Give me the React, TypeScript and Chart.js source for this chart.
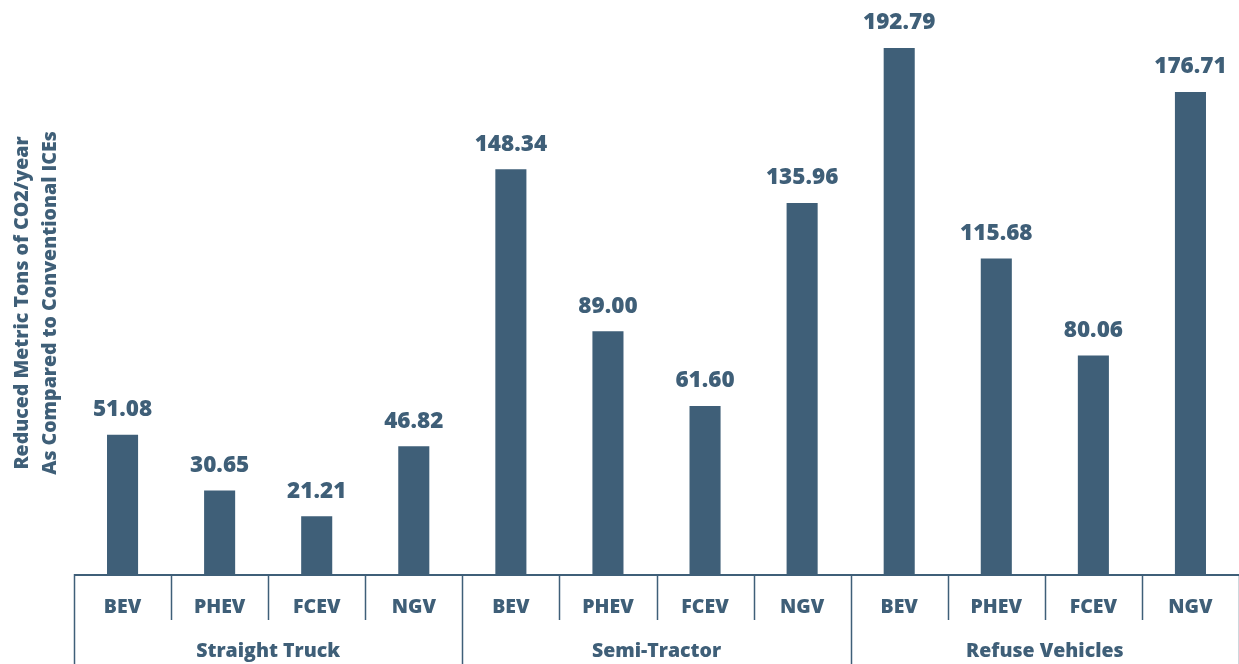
import React, { useEffect, useRef } from "react";
import { Chart, registerables } from "chart.js";

Chart.register(...registerables);

const subCategories = ["BEV", "PHEV", "FCEV", "NGV", "BEV", "PHEV", "FCEV", "NGV", "BEV", "PHEV", "FCEV", "NGV"];
const groups = ["Straight Truck", "Semi-Tractor", "Refuse Vehicles"];
const groupSize = [4, 4, 4];
const values = [51.08, 30.65, 21.21, 46.82, 148.34, 89.0, 61.6, 135.96, 192.79, 115.68, 80.06, 176.71];
const yTitle = ["Reduced Metric Tons of CO2/year", "As Compared to Conventional ICEs"];

const BAR = "#3F5F78";
const TEXT = "#3F5F78";
const FONT = "'Open Sans', 'Noto Sans', sans-serif";

const overlay = {
  id: "overlay",
  afterDraw(chart: any) {
    const ctx = chart.ctx;
    const area = chart.chartArea;
    const x = chart.scales.x;
    const y = chart.scales.y;
    const n = subCategories.length;
    const half = (x.getPixelForValue(1) - x.getPixelForValue(0)) / 2;
    const base = y.getPixelForValue(0);
    ctx.save();
    // value labels
    ctx.fillStyle = TEXT;
    ctx.textAlign = "center";
    ctx.textBaseline = "middle";
    ctx.font = `800 22.5px ${FONT}`;
    values.forEach((v, i) => {
      const px = x.getPixelForValue(i);
      const py = y.getPixelForValue(v);
      ctx.fillText(v.toFixed(2), px, py - 25);
    });
    // axis line
    ctx.strokeStyle = BAR;
    ctx.lineWidth = 2;
    ctx.beginPath();
    ctx.moveTo(area.left, base + 1);
    ctx.lineTo(area.right, base + 1);
    ctx.stroke();
    // separators
    ctx.lineWidth = 1.5;
    const groupStarts = new Set<number>();
    let acc = 0;
    groupSize.forEach((s) => {
      groupStarts.add(acc);
      acc += s;
    });
    groupStarts.add(n);
    for (let i = 0; i <= n; i++) {
      const sx = Math.round(x.getPixelForValue(i) - half) + 0.5;
      const bottom = groupStarts.has(i) ? chart.height : base + 46;
      ctx.beginPath();
      ctx.moveTo(sx, base);
      ctx.lineTo(sx, bottom);
      ctx.stroke();
    }
    // sub labels
    ctx.font = `800 19.5px ${FONT}`;
    subCategories.forEach((c, i) => {
      ctx.fillText(c, x.getPixelForValue(i), base + 33);
    });
    // group labels
    acc = 0;
    groups.forEach((g, gi) => {
      const start = acc;
      const end = acc + groupSize[gi] - 1;
      acc += groupSize[gi];
      const cx = (x.getPixelForValue(start) + x.getPixelForValue(end)) / 2;
      ctx.fillText(g, cx, base + 77);
    });
    // y title
    ctx.font = `800 19.5px ${FONT}`;
    ctx.translate(0, 303);
    ctx.rotate(-Math.PI / 2);
    ctx.fillText(yTitle[0], 0, 22);
    ctx.fillText(yTitle[1], 0, 50);
    ctx.restore();
  },
};

export default function App() {
  const ref = useRef<HTMLCanvasElement>(null);
  useEffect(() => {
    document.body.style.margin = "0";
    const chart = new Chart(ref.current as HTMLCanvasElement, {
      type: "bar",
      data: {
        labels: subCategories.map((c, i) => `${c}${i}`),
        datasets: [
          {
            data: values,
            backgroundColor: BAR,
            borderWidth: 0,
            barPercentage: 0.32,
            categoryPercentage: 1,
          },
        ],
      },
      options: {
        animation: false,
        responsive: false,
        maintainAspectRatio: false,
        layout: { padding: { left: 74, right: 0, top: 0, bottom: 90 } },
        plugins: { legend: { display: false }, tooltip: { enabled: false }, title: { display: false } },
        scales: {
          x: { display: false },
          y: { display: false, min: 0, max: 210.4 },
        },
      },
      plugins: [overlay],
    });
    return () => chart.destroy();
  }, []);
  return (
    <div style={{ width: 1239, height: 664 }}>
      <canvas ref={ref} width={1239} height={664} style={{ display: "block" }} />
    </div>
  );
}
